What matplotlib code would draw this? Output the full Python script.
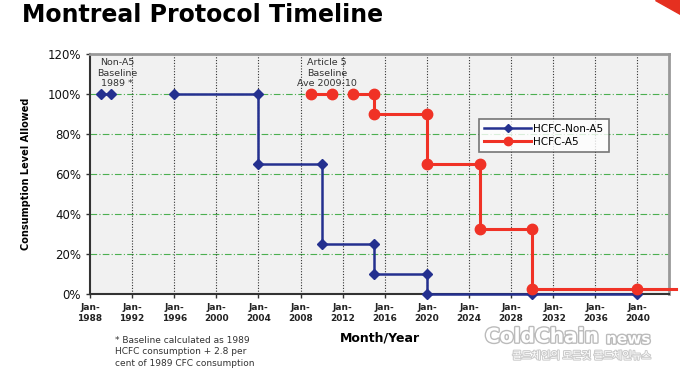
import numpy as np
import matplotlib
matplotlib.use("Agg")
import matplotlib.pyplot as plt
import matplotlib.patheffects as pe
from matplotlib.patches import Polygon

# ---- data ----
tick_years = [1988, 1992, 1996, 2000, 2004, 2008, 2012, 2016, 2020, 2024, 2028, 2032, 2036, 2040]
tick_labels = [f"Jan-\n{y}" for y in tick_years]
y_ticks = [0, 20, 40, 60, 80, 100, 120]
y_labels = [f"{v}%" for v in y_ticks]

non_a5_x = [1989, 1990, np.nan, 1996, 2004, 2004, 2010, 2010, 2015, 2015, 2020, 2020, 2030, 2040]
non_a5_y = [100, 100, np.nan, 100, 100, 65, 65, 25, 25, 10, 10, 0, 0, 0]

a5_x = [2009, 2011, np.nan, 2013, 2015, 2015, 2020, 2020, 2025, 2025, 2030, 2030, 2040, 2043.7]
a5_y = [100, 100, np.nan, 100, 100, 90, 90, 65, 65, 32.5, 32.5, 2.5, 2.5, 2.5]

blue = "#24308f"
red = "#f03226"

fig = plt.figure(figsize=(6.8, 3.78), dpi=100)
fig.patch.set_facecolor("white")
ax = fig.add_axes([90/680, 1-294/378, (669-90)/680, (294-54)/378])
ax.set_facecolor("#f1f1f1")

ax.set_xlim(1988, 2043)
ax.set_ylim(0, 120)

# grid
for v in y_ticks[1:-1]:
    ax.axhline(v, color="#4caf50", lw=0.8, ls=(0, (6, 2, 1, 2)), zorder=1)
for yr in tick_years[1:]:
    ax.axvline(yr, color="#333333", lw=0.8, ls=(0, (1, 1.5)), zorder=1)

ax.plot(non_a5_x, non_a5_y, color=blue, lw=1.8, marker="D", ms=5,
        label="HCFC-Non-A5", zorder=3, clip_on=False)
ax.plot(a5_x, a5_y, color=red, lw=2.2, marker="o", ms=7.5, markevery=list(range(13)),
        label="HCFC-A5", zorder=4, clip_on=False)

ax.set_xticks(tick_years)
ax.set_xticklabels(tick_labels, fontsize=6.5, fontweight="bold", color="#222222", linespacing=1.3)
ax.set_yticks(y_ticks)
ax.set_yticklabels(y_labels, fontsize=8.5, color="#111111")
ax.tick_params(axis="both", length=3, color="#333333", width=1)

for s in ["left", "bottom"]:
    ax.spines[s].set_color("#333333")
    ax.spines[s].set_linewidth(1.5)
for s in ["top", "right"]:
    ax.spines[s].set_color("#999999")
    ax.spines[s].set_linewidth(2)

ax.set_ylabel("Consumption Level Allowed", fontsize=7, fontweight="bold", labelpad=12)
fig.text(380/680, 1-338/378, "Month/Year", fontsize=9, fontweight="bold", ha="center", va="center")

ax.text(1990.6, 110.5, "Non-A5\nBaseline\n1989 *", fontsize=6.8, ha="center", va="center",
        color="#333333", linespacing=1.15, zorder=2)
ax.text(2010.5, 110.5, "Article 5\nBaseline\nAve 2009-10", fontsize=6.8, ha="center", va="center",
        color="#333333", linespacing=1.15, zorder=2)

leg = ax.legend(loc="upper left", bbox_to_anchor=(0.672, 0.73), fontsize=7.5, frameon=True,
                fancybox=False, edgecolor="#555555", handlelength=4.5, borderpad=0.5,
                labelspacing=0.3, handletextpad=0.2, borderaxespad=0)
leg.get_frame().set_linewidth(1.2)
for h in leg.legend_handles:
    h.set_markersize(4 if h.get_label() == "HCFC-Non-A5" else 6)

fig.text(22/680, 1-15/378, "Montreal Protocol Timeline", fontsize=17, fontweight="bold",
         ha="left", va="center", color="black")

fig.text(115/680, 1-352/378, "* Baseline calculated as 1989\nHCFC consumption + 2.8 per\ncent of 1989 CFC consumption",
         fontsize=6.5, ha="left", va="center", color="#333333", linespacing=1.35)

# watermark
shadow = [pe.withStroke(linewidth=2, foreground="#bbbbbb")]
fig.text(485/680, 1-337/378, "ColdChain", fontsize=14.5, fontweight="bold", ha="left",
         va="center", color="white", path_effects=shadow)
fig.text(606/680, 1-339/378, "news", fontsize=11, fontweight="bold", ha="left",
         va="center", color="white", path_effects=shadow)
fig.text(582/680, 1-356/378, "콜드체인의 모든것 콜드체인뉴스", fontsize=7.5, ha="center", va="center",
         color="white", family=["Noto Sans CJK KR", "DejaVu Sans"],
         path_effects=[pe.withStroke(linewidth=1.5, foreground="#cccccc")])

# corner decoration
fig.patches.append(Polygon([[655/680, 1.0], [680/680, 1.0], [680/680, 1-14/378]],
                           closed=True, transform=fig.transFigure, color="#e53020"))

fig.savefig("out.png", dpi=100)
